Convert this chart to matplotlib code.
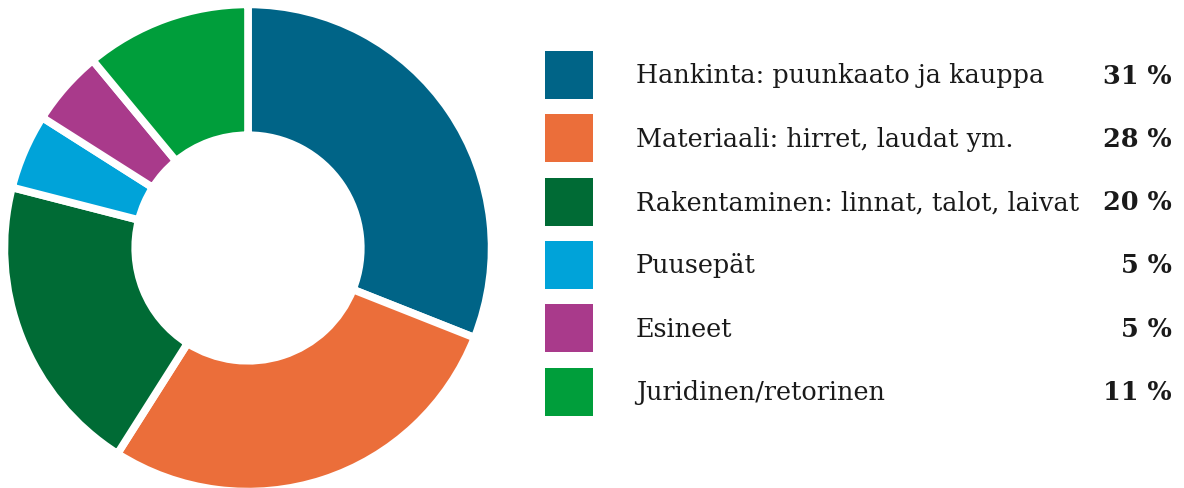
import matplotlib.pyplot as plt
from matplotlib.patches import Rectangle

# data
labels = ['Hankinta: puunkaato ja kauppa', 'Materiaali: hirret, laudat ym.',
          'Rakentaminen: linnat, talot, laivat', 'Puusepät', 'Esineet',
          'Juridinen/retorinen']
values = [31, 28, 20, 5, 5, 11]
colors = ['#006487', '#EB6E3A', '#006B35', '#00A3D9', '#A93A8B', '#009E3B']

W, H = 1184, 489
fig = plt.figure(figsize=(W / 100, H / 100), dpi=100)

# donut
ax = fig.add_axes([8 / W, 0 / H, 480 / W, 480 / H])
ax.pie(values, colors=colors, startangle=90, counterclock=False, radius=1.015,
       wedgeprops=dict(width=0.545, edgecolor='white', linewidth=5.5))
ax.set_xlim(-1.0, 1.0)
ax.set_ylim(-1.0, 1.0)
ax.set_aspect('equal')
ax.axis('off')

# legend drawn in pixel coords
lg = fig.add_axes([0, 0, 1, 1])
lg.set_xlim(0, W)
lg.set_ylim(H, 0)
lg.axis('off')
y0, step = 76, 63.3
for i, (lab, v, c) in enumerate(zip(labels, values, colors)):
    yc = y0 + i * step
    lg.add_patch(Rectangle((545, yc - 24), 48, 48, facecolor=c, edgecolor='none'))
    lg.text(636, yc, lab, fontsize=18.4, family='DejaVu Serif', va='center', ha='left',
            color='#1a1a1a')
    lg.text(1172, yc, f'{v} %', fontsize=18.4, family='DejaVu Serif', weight='bold',
            va='center', ha='right', color='#1a1a1a')

plt.savefig('out.png', dpi=100)
